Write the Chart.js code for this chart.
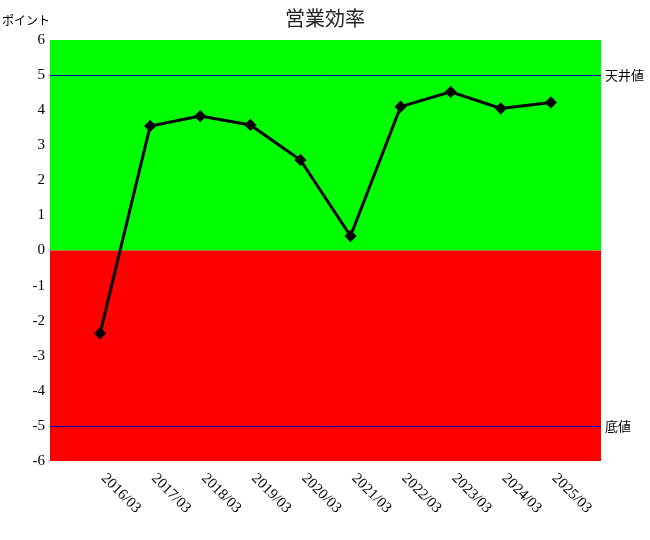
<!DOCTYPE html>
<html>
<head>
<meta charset="utf-8">
<script src="https://cdn.jsdelivr.net/npm/chart.js@4/dist/chart.umd.min.js"></script>
<style>
  body { margin: 0; background: #fff; }
  #wrap { width: 650px; height: 540px; }
</style>
</head>
<body>
<div id="wrap"><canvas id="lineChart"></canvas></div>
<script>
var categories = ['2016/03', '2017/03', '2018/03', '2019/03', '2020/03', '2021/03', '2022/03', '2023/03', '2024/03', '2025/03'];
var values = [-2.36, 3.55, 3.83, 3.58, 2.58, 0.41, 4.10, 4.52, 4.05, 4.22];
var yTicks = [6, 5, 4, 3, 2, 1, 0, -1, -2, -3, -4, -5, -6];
var thresholds = [5, -5];
var thresholdLabels = ['天井値', '底値'];
var bands = [[0, 6, '#00ff00'], [-6, 0, '#ff0000']];

var serif = '"Liberation Serif", "Times New Roman", serif';
var jp = '"Noto Sans CJK JP", sans-serif';

// empty slot on each side so the points sit one step in from the edges
var labels = [''].concat(categories, ['']);
var series = [null].concat(values, [null]);

var backdrop = {
  id: 'backdrop',
  beforeDatasetsDraw: function (chart) {
    var ctx = chart.ctx;
    var area = chart.chartArea;
    var y = chart.scales.y;
    ctx.save();
    bands.forEach(function (b) {
      var top = y.getPixelForValue(b[1]);
      var bottom = y.getPixelForValue(b[0]);
      ctx.fillStyle = b[2];
      ctx.fillRect(area.left, top, area.right - area.left, bottom - top);
    });
    ctx.strokeStyle = '#0000b0';
    ctx.lineWidth = 1;
    ctx.fillStyle = '#000';
    ctx.font = '13px ' + jp;
    ctx.textBaseline = 'middle';
    ctx.textAlign = 'left';
    thresholds.forEach(function (t, i) {
      var py = Math.round(y.getPixelForValue(t)) + 0.5;
      ctx.beginPath();
      ctx.moveTo(area.left, py);
      ctx.lineTo(area.right, py);
      ctx.stroke();
      ctx.fillText(thresholdLabels[i], area.right + 4, py);
    });
    ctx.restore();
  },
  afterDraw: function (chart) {
    var ctx = chart.ctx;
    var area = chart.chartArea;
    var x = chart.scales.x;
    ctx.save();
    ctx.fillStyle = '#000';
    // axis caption in the corner
    ctx.font = '12px ' + jp;
    ctx.textAlign = 'left';
    ctx.textBaseline = 'middle';
    ctx.fillText('ポイント', 2, 20);
    // x labels slant down to the right
    ctx.font = '15px ' + serif;
    labels.forEach(function (lab, i) {
      if (!lab) return;
      var px = x.getPixelForValue(i);
      ctx.save();
      ctx.translate(px + 3.5, area.bottom + 15);
      ctx.rotate(Math.PI / 4);
      ctx.fillText(lab, 0, 0);
      ctx.restore();
    });
    ctx.restore();
  }
};

var myChart = new Chart(document.getElementById('lineChart').getContext('2d'), {
  type: 'line',
  data: {
    labels: labels,
    datasets: [{
      data: series,
      borderColor: '#000',
      backgroundColor: '#000',
      borderWidth: 3,
      pointStyle: 'rectRot',
      pointRadius: 4,
      pointHoverRadius: 4,
      fill: false,
      tension: 0
    }]
  },
  options: {
    responsive: true,
    maintainAspectRatio: false,
    animation: false,
    layout: { padding: 0 },
    plugins: {
      legend: { display: false },
      tooltip: { enabled: false },
      title: {
        display: true,
        text: '営業効率',
        color: '#222',
        font: { family: jp, size: 20, weight: 'normal', lineHeight: 1.2 },
        padding: { top: 6, bottom: 10 }
      }
    },
    scales: {
      x: {
        type: 'category',
        offset: false,
        grid: { display: false },
        border: { display: false },
        ticks: { display: false },
        afterFit: function (scale) { scale.height = 79; }
      },
      y: {
        min: -6,
        max: 6,
        grid: { display: false, drawTicks: false },
        border: { display: false },
        afterBuildTicks: function (scale) {
          scale.ticks = yTicks.map(function (v) { return { value: v }; });
        },
        ticks: {
          color: '#000',
          padding: 5,
          font: { family: serif, size: 15 }
        },
        afterFit: function (scale) { scale.width = 50; }
      },
      // empty right axis just to keep room for the threshold labels
      yRight: {
        position: 'right',
        min: -6,
        max: 6,
        grid: { display: false, drawTicks: false },
        border: { display: false },
        ticks: { display: false },
        afterFit: function (scale) { scale.width = 49; }
      }
    }
  },
  plugins: [backdrop]
});
</script>
</body>
</html>
